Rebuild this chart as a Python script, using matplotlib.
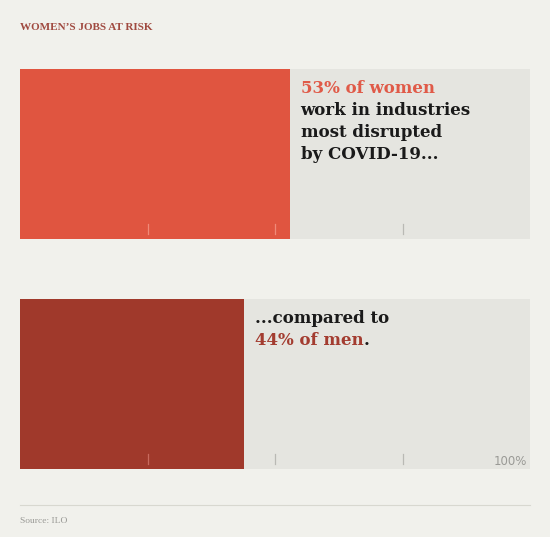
import matplotlib.pyplot as plt

# Datos
groups = ["women", "men"]
shares = [53, 44]
total = 100
tick_vals = [25, 50, 75]
bar_colors = ["#e05540", "#a0392b"]
label_colors = ["#e05a48", "#a33c30"]

W, H = 550, 537
bg = "#f1f1ec"
track = "#e5e5e0"

fig = plt.figure(figsize=(W / 100, H / 100), dpi=100)
fig.patch.set_facecolor(bg)

serif = ["DejaVu Serif"]

# posiciones de las barras en pixeles (top, bottom)
panels = [(69, 239), (299, 469)]
axes = []
for (top, bottom), val, col in zip(panels, shares, bar_colors):
    ax = fig.add_axes([20 / W, 1 - bottom / H, 510 / W, (bottom - top) / H])
    ax.barh(0, total, height=1, color=track, align="center")
    ax.barh(0, val, height=1, color=col, align="center")
    for t in tick_vals:
        c = "#f08a78" if t < val else "#b9b9b4"
        if col == bar_colors[1] and t < val:
            c = "#c86a5e"
        ax.plot([t, t], [-0.47, -0.41], color=c, lw=0.9)
    ax.set_xlim(0, total)
    ax.set_ylim(-0.5, 0.5)
    ax.axis("off")
    axes.append(ax)

# texto panel 1
ax1 = axes[0]
fs = 12
x1 = shares[0] + 2
ax1.text(x1, 0.36, "53% of women", color=label_colors[0], fontsize=fs,
         family=serif, weight="bold", va="baseline", ha="left")
for i, line in enumerate(["work in industries", "most disrupted", "by COVID-19..."]):
    ax1.text(x1, 0.36 - (i + 1) * 22 / 170, line, color="#1a1a1a", fontsize=fs,
             family=serif, weight="bold", va="baseline", ha="left")

# texto panel 2
ax2 = axes[1]
x2 = shares[1] + 2
ax2.text(x2, 0.36, "...compared to", color="#1a1a1a", fontsize=fs,
         family=serif, weight="bold", va="baseline", ha="left")
t44 = ax2.text(x2, 0.36 - 22 / 170, "44% of men", color=label_colors[1],
               fontsize=fs, family=serif, weight="bold", va="baseline", ha="left")
ax2.annotate(".", xy=(1, 0), xycoords=t44, color="#1a1a1a", fontsize=fs,
             family=serif, weight="bold", va="bottom", ha="left")
ax2.text(99.4, -0.453, "100%", color="#9a9a96", fontsize=8.5, ha="right",
         va="center", family=["DejaVu Sans"])

# titulo y fuente
fig.text(20 / W, 1 - 28 / H, "WOMEN\u2019S JOBS AT RISK", color="#a04a40",
         fontsize=8, weight="bold", family=["Liberation Serif"], va="center")
fig.add_artist(plt.Line2D([20 / W, 530 / W], [1 - 505 / H, 1 - 505 / H],
                          color="#d8d8d0", lw=0.8))
fig.text(20 / W, 1 - 521 / H, "Source: ILO", color="#9a9a96", fontsize=6.8,
         family=["Liberation Serif"], va="center")

plt.savefig("out.png", dpi=100, facecolor=bg)
plt.close()
